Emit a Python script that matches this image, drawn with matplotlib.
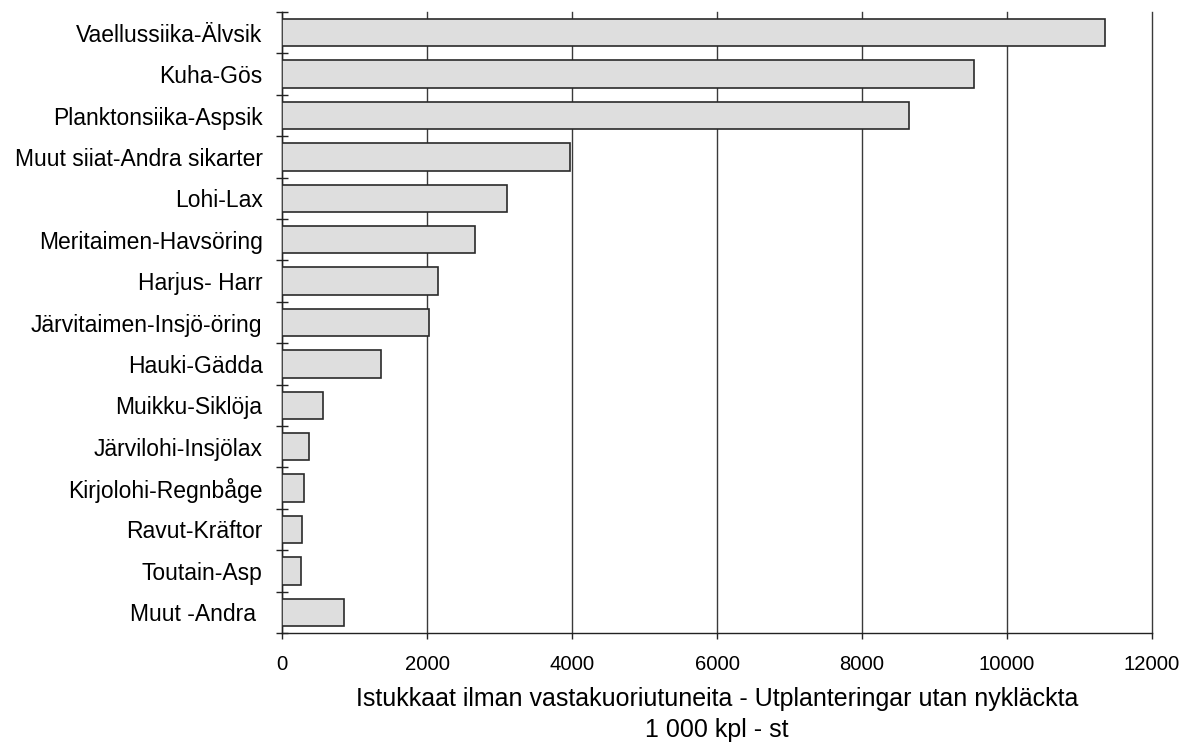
import matplotlib
matplotlib.use("Agg")
import matplotlib.pyplot as plt
import numpy as np

plt.rcParams['font.family'] = ['Liberation Sans', 'DejaVu Sans']

categories = [
    "Vaellussiika-Älvsik",
    "Kuha-Gös",
    "Planktonsiika-Aspsik",
    "Muut siiat-Andra sikarter",
    "Lohi-Lax",
    "Meritaimen-Havsöring",
    "Harjus- Harr",
    "Järvitaimen-Insjö-öring",
    "Hauki-Gädda",
    "Muikku-Siklöja",
    "Järvilohi-Insjölax",
    "Kirjolohi-Regnbåge",
    "Ravut-Kräftor",
    "Toutain-Asp",
    "Muut -Andra ",
]
values = [11350, 9550, 8650, 3970, 3110, 2660, 2150, 2030, 1364, 563, 372, 298, 280, 266, 849]
xticks = [0, 2000, 4000, 6000, 8000, 10000, 12000]
xlabel = "Istukkaat ilman vastakuoriutuneita - Utplanteringar utan nykläckta\n1 000 kpl - st"

fig = plt.figure(figsize=(11.87, 7.45), dpi=100)
ax = fig.add_axes([282/1187, 1 - 633/745, 870/1187, 621/745])

y = np.arange(len(categories))
ax.barh(y, values, height=0.66, color="#dedede", edgecolor="#2a2a2a", linewidth=1.2, zorder=3)

ax.set_xlim(0, 12000)
ax.set_ylim(len(categories) - 0.5, -0.5)
ax.set_xticks(xticks)
ax.set_xticklabels([str(t) for t in xticks], fontsize=14.6)
ax.xaxis.grid(True, color="#3a3a3a", linewidth=1.0, zorder=0)
for gl in ax.xaxis.get_gridlines():
    gl.set_clip_on(False)

ax.set_yticks(y)
ax.set_yticklabels(categories, fontsize=16.5)
ax.tick_params(axis='y', which='major', length=0, pad=14)
ax.set_yticks(np.arange(-0.5, len(categories), 1.0), minor=True)
ax.tick_params(axis='y', which='minor', direction='inout', length=9, width=1.0, color="#222222")
ax.tick_params(axis='x', which='major', direction='out', length=4, width=1.0, pad=12, color="#222222")

for s in ['top', 'right']:
    ax.spines[s].set_visible(False)
for s in ['left', 'bottom']:
    ax.spines[s].set_color("#222222")
    ax.spines[s].set_linewidth(1.0)

ax.set_xlabel(xlabel, fontsize=18, linespacing=1.38, labelpad=9)

fig.savefig("out.png", dpi=100, facecolor="white")
